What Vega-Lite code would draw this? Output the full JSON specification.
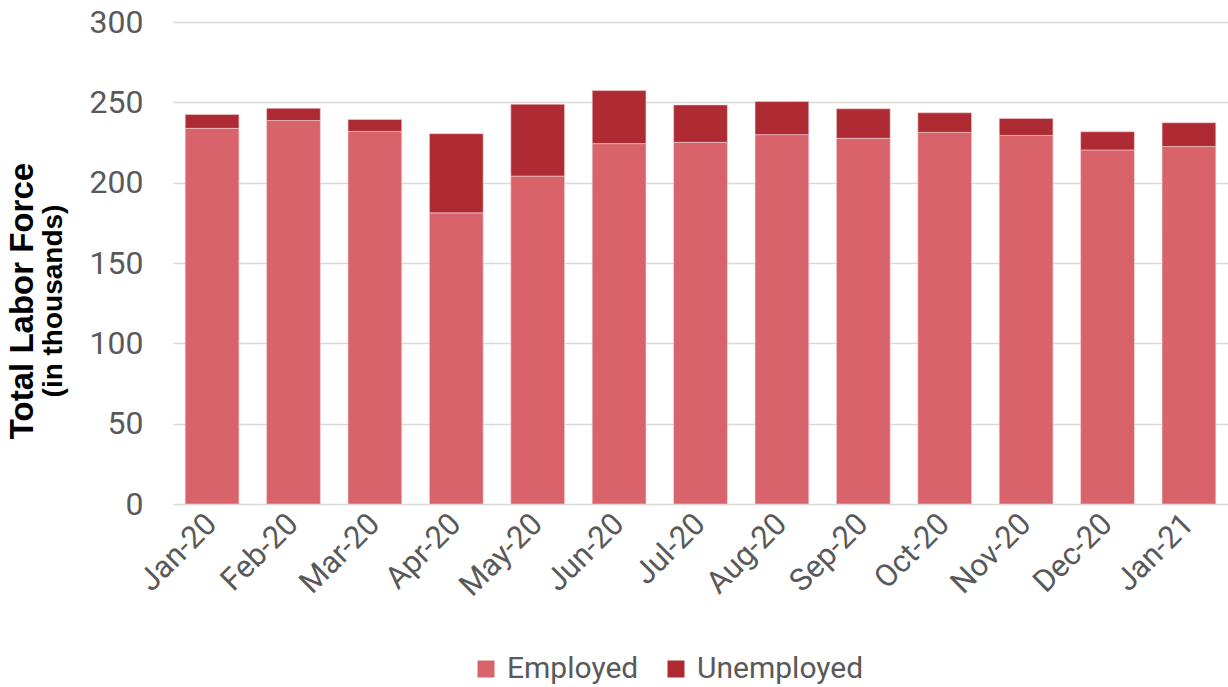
{
  "$schema": "https://vega.github.io/schema/vega-lite/v6.json",
  "width": 1228,
  "height": 687,
  "autosize": {"type": "fit", "contains": "padding"},
  "padding": {"left": 7, "right": 0, "top": 6, "bottom": 85},
  "background": "white",
  "config": {"view": {"stroke": null}},
  "title": {
    "text": "Total Labor Force",
    "subtitle": "(in thousands)",
    "orient": "left",
    "anchor": "middle",
    "dx": -38,
    "font": "Liberation Sans",
    "fontSize": 33,
    "fontWeight": "bold",
    "color": "#000000",
    "subtitleFont": "Liberation Sans",
    "subtitleFontSize": 28,
    "subtitleFontWeight": "bold",
    "subtitleColor": "#000000",
    "subtitlePadding": 0,
    "offset": 21
  },
  "data": {
    "values": [
      {"month": "Jan-20", "status": "Employed", "value": 233.8},
      {"month": "Jan-20", "status": "Unemployed", "value": 8.6},
      {"month": "Feb-20", "status": "Employed", "value": 238.7},
      {"month": "Feb-20", "status": "Unemployed", "value": 7.6},
      {"month": "Mar-20", "status": "Employed", "value": 231.9},
      {"month": "Mar-20", "status": "Unemployed", "value": 7.4},
      {"month": "Apr-20", "status": "Employed", "value": 181.2},
      {"month": "Apr-20", "status": "Unemployed", "value": 49.3},
      {"month": "May-20", "status": "Employed", "value": 204.1},
      {"month": "May-20", "status": "Unemployed", "value": 44.7},
      {"month": "Jun-20", "status": "Employed", "value": 224.3},
      {"month": "Jun-20", "status": "Unemployed", "value": 33.0},
      {"month": "Jul-20", "status": "Employed", "value": 225.1},
      {"month": "Jul-20", "status": "Unemployed", "value": 23.3},
      {"month": "Aug-20", "status": "Employed", "value": 229.9},
      {"month": "Aug-20", "status": "Unemployed", "value": 20.6},
      {"month": "Sep-20", "status": "Employed", "value": 227.6},
      {"month": "Sep-20", "status": "Unemployed", "value": 18.4},
      {"month": "Oct-20", "status": "Employed", "value": 231.3},
      {"month": "Oct-20", "status": "Unemployed", "value": 12.2},
      {"month": "Nov-20", "status": "Employed", "value": 229.4},
      {"month": "Nov-20", "status": "Unemployed", "value": 10.6},
      {"month": "Dec-20", "status": "Employed", "value": 220.4},
      {"month": "Dec-20", "status": "Unemployed", "value": 11.3},
      {"month": "Jan-21", "status": "Employed", "value": 222.5},
      {"month": "Jan-21", "status": "Unemployed", "value": 14.8}
    ]
  },
  "mark": {"type": "bar", "stroke": "#f2d0d2", "strokeWidth": 0.6},
  "encoding": {
    "x": {
      "field": "month",
      "type": "nominal",
      "sort": null,
      "scale": {"paddingInner": 0.34, "paddingOuter": 0.15},
      "axis": {
        "title": null,
        "labelAngle": -45,
        "labelAlign": "right",
        "labelBaseline": "middle",
        "labelFont": "Roboto",
        "labelFontSize": 31,
        "labelColor": "#595959",
        "labelPadding": 15,
        "ticks": false,
        "domain": false,
        "grid": false
      }
    },
    "y": {
      "field": "value",
      "type": "quantitative",
      "aggregate": "sum",
      "stack": "zero",
      "scale": {"domain": [0, 300]},
      "axis": {
        "title": null,
        "values": [0, 50, 100, 150, 200, 250, 300],
        "labelFont": "Roboto",
        "labelFontSize": 32,
        "labelColor": "#595959",
        "labelPadding": 30,
        "ticks": false,
        "domain": false,
        "grid": true,
        "gridColor": "#d9d9d9",
        "gridWidth": 1.5
      }
    },
    "color": {
      "field": "status",
      "type": "nominal",
      "scale": {"domain": ["Employed", "Unemployed"], "range": ["#d9636a", "#af2b33"]},
      "legend": {
        "title": null,
        "orient": "none",
        "legendX": 298,
        "legendY": 632,
        "direction": "horizontal",
        "symbolType": "square",
        "symbolSize": 289,
        "symbolStrokeWidth": 0,
        "labelFont": "Roboto",
        "labelFontSize": 30,
        "labelColor": "#595959",
        "labelOffset": 6,
        "labelLimit": 400,
        "columnPadding": 22
      }
    },
    "order": {"field": "status", "sort": "ascending"}
  }
}
